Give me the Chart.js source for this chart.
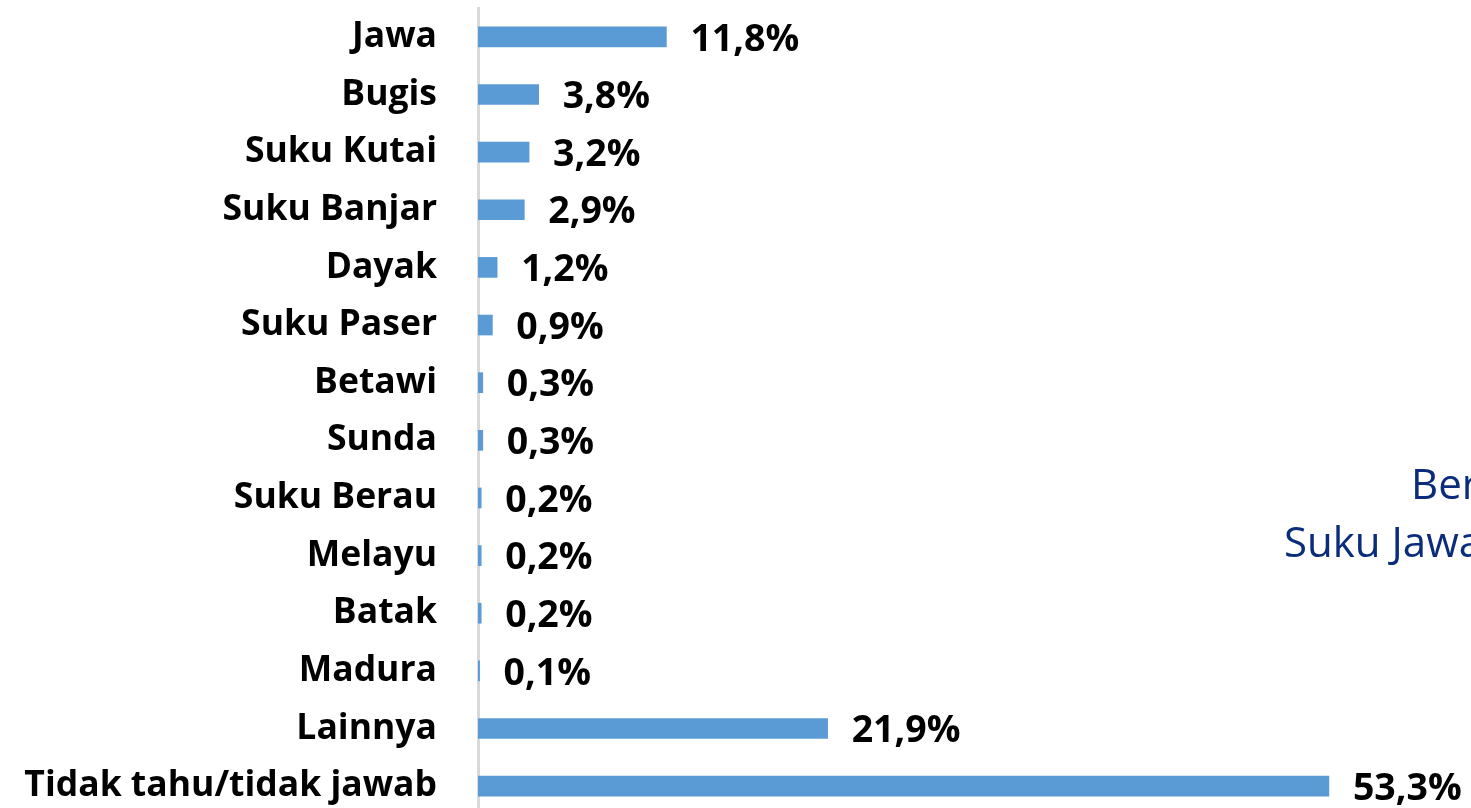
<!DOCTYPE html>
<html>
<head>
<meta charset="utf-8">
<script src="https://cdn.jsdelivr.net/npm/chart.js@4/dist/chart.umd.min.js"></script>
<style>
html,body{margin:0;padding:0;background:#fff;overflow:hidden;}
#wrap{position:relative;width:1471px;height:815px;}
</style>
</head>
<body>
<div id="wrap"><canvas id="c" width="1471" height="815"></canvas></div>
<script>
const categories = ["Jawa","Bugis","Suku Kutai","Suku Banjar","Dayak","Suku Paser","Betawi","Sunda","Suku Berau","Melayu","Batak","Madura","Lainnya","Tidak tahu/tidak jawab"];
const values = [11.8,3.8,3.2,2.9,1.2,0.9,0.3,0.3,0.2,0.2,0.2,0.1,21.9,53.3];
const valueLabels = ["11,8%","3,8%","3,2%","2,9%","1,2%","0,9%","0,3%","0,3%","0,2%","0,2%","0,2%","0,1%","21,9%","53,3%"];
const sideTextLines = ["Ber","Suku Jawa"];

const FONT = "'Open Sans', sans-serif";

const valueLabelPlugin = {
  id: 'valueLabels',
  afterDatasetsDraw(chart) {
    const ctx = chart.ctx;
    const meta = chart.getDatasetMeta(0);
    ctx.save();
    ctx.font = "bold 37.5px " + FONT;
    ctx.fillStyle = "#000";
    ctx.textAlign = "left";
    ctx.textBaseline = "middle";
    meta.data.forEach((bar, i) => {
      ctx.fillText(valueLabels[i], bar.x + 24, bar.y + 3);
    });
    ctx.restore();
  }
};

const sideTextPlugin = {
  id: 'sideText',
  afterDraw(chart) {
    const ctx = chart.ctx;
    ctx.save();
    ctx.font = "42px " + FONT;
    ctx.fillStyle = "#0A2C7A";
    ctx.textAlign = "left";
    ctx.textBaseline = "middle";
    ctx.fillText(sideTextLines[0], 1411, 487);
    ctx.fillText(sideTextLines[1], 1284, 545);
    ctx.restore();
  }
};

new Chart(document.getElementById('c'), {
  type: 'bar',
  data: {
    labels: categories,
    datasets: [{
      data: values,
      backgroundColor: '#5B9BD5',
      borderWidth: 0,
      barThickness: 20
    }]
  },
  options: {
    indexAxis: 'y',
    responsive: false,
    animation: false,
    devicePixelRatio: 1,
    layout: { padding: { top: 8, bottom: 0, left: 0, right: 0 } },
    plugins: { legend: { display: false }, tooltip: { enabled: false } },
    scales: {
      x: {
        display: false,
        min: 0,
        max: 62.2
      },
      y: {
        afterFit(scale) { scale.width = 478; scale.paddingTop = 0; scale.paddingBottom = 0; },
        grid: { display: false, drawTicks: false },
        border: { display: true, color: '#D9D9D9', width: 3 },
        ticks: {
          padding: 41,
          color: '#000',
          font: { family: FONT, size: 35.5, weight: 'bold' }
        }
      }
    }
  },
  plugins: [valueLabelPlugin, sideTextPlugin]
});
</script>
</body>
</html>
